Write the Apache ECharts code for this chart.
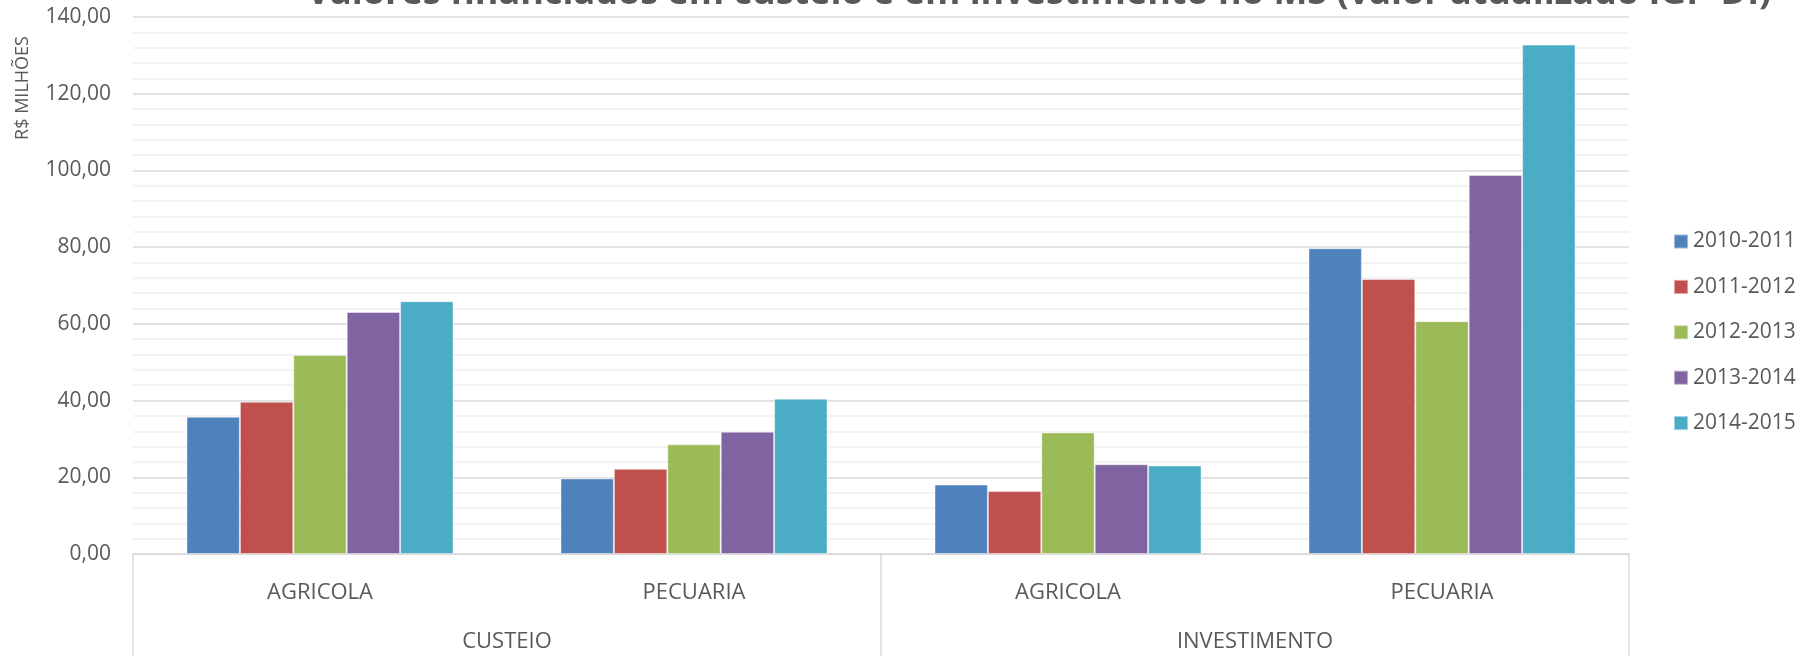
<!DOCTYPE html>
<html>
<head>
<meta charset="utf-8">
<script src="https://cdn.jsdelivr.net/npm/echarts@6/dist/echarts.min.js"></script>
<style>html,body{margin:0;padding:0;background:#fff}#c{width:1812px;height:656px}</style>
</head>
<body>
<div id="c"></div>
<script>
const titleText = 'Valores financiados em custeio e em investimento no MS (valor atualizado IGP-DI)';
const yAxisName = 'R$ MILHÕES';
const subCategories = ['AGRICOLA', 'PECUARIA', 'AGRICOLA', 'PECUARIA'];
const groupCategories = ['CUSTEIO', 'INVESTIMENTO'];
const seriesNames = ['2010-2011', '2011-2012', '2012-2013', '2013-2014', '2014-2015'];
const s2010 = [35.8, 19.7, 18.1, 79.7];
const s2011 = [39.7, 22.2, 16.4, 71.7];
const s2012 = [51.9, 28.6, 31.7, 60.7];
const s2013 = [63.1, 31.9, 23.4, 98.8];
const s2014 = [65.9, 40.5, 23.1, 132.8];
const seriesValues = [s2010, s2011, s2012, s2013, s2014];
const colors = ['#4F81BD', '#C0504D', '#9BBB59', '#8064A2', '#4BACC6'];

const font = '"Open Sans", "Noto Sans", sans-serif';
const txt = '#595959';
const chart = echarts.init(document.getElementById('c'));
chart.setOption({
  animation: false,
  color: colors,
  title: {
    text: titleText,
    left: 1034,
    textAlign: 'center',
    top: -29,
    textStyle: { fontFamily: font, fontSize: 36, fontWeight: 'bold', color: txt }
  },
  graphic: [{
    type: 'text',
    x: 23, y: 88,
    rotation: Math.PI / 2,
    style: { text: yAxisName, fontFamily: font, fontSize: 18, fill: txt, align: 'center', verticalAlign: 'middle' }
  }],
  legend: {
    orient: 'vertical',
    left: 1668,
    top: 226,
    itemWidth: 14,
    itemHeight: 14,
    itemGap: 24.4,
    icon: 'rect',
    textStyle: { fontFamily: font, fontSize: 21, color: txt, lineHeight: 20 },
    data: seriesNames
  },
  grid: { left: 133, right: 183, top: 17, bottom: 102, containLabel: false },
  xAxis: [{
    type: 'category',
    data: subCategories,
    position: 'bottom',
    axisLine: { show: true, onZero: false, lineStyle: { color: '#d9d9d9', width: 1.5 } },
    axisTick: { show: false },
    axisLabel: { margin: 28, fontFamily: font, fontSize: 22, color: txt }
  }, {
    type: 'category',
    data: groupCategories,
    position: 'bottom',
    axisLine: { show: false, onZero: false },
    axisTick: { show: true, length: 110, lineStyle: { color: '#d9d9d9', width: 1.5 } },
    axisLabel: { margin: 77, fontFamily: font, fontSize: 22, color: txt }
  }],
  yAxis: {
    type: 'value',
    min: 0, max: 140, interval: 20,
    axisLine: { show: false },
    axisTick: { show: false },
    axisLabel: {
      margin: 22,
      fontFamily: font, fontSize: 21, color: txt,
      formatter: v => v.toFixed(2).replace('.', ',')
    },
    splitLine: { show: true, lineStyle: { color: '#d9d9d9', width: 1.5 } },
    minorTick: { show: false, splitNumber: 5 },
    minorSplitLine: { show: true, lineStyle: { color: '#f0f0f0', width: 1.5 } }
  },
  series: seriesNames.map((name, i) => ({
    name,
    type: 'bar',
    xAxisIndex: 0,
    data: seriesValues[i],
    barGap: '0%',
    barCategoryGap: '28.6%',
    itemStyle: { borderColor: 'rgba(255,255,255,0.45)', borderWidth: 1 }
  }))
});
</script>
</body>
</html>
